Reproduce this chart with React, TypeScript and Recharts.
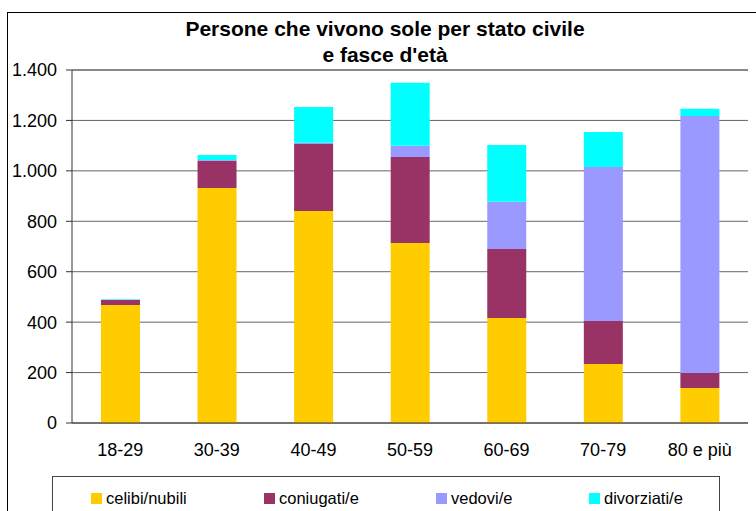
import { Bar, BarChart, CartesianGrid, Legend, ReferenceLine, XAxis, YAxis } from 'recharts'

const ageGroups = ['18-29', '30-39', '40-49', '50-59', '60-69', '70-79', '80 e più']
const celibi = [468, 932, 841, 714, 416, 234, 139]
const coniugati = [20, 108, 266, 341, 274, 171, 59]
const vedovi = [1, 3, 4, 45, 187, 610, 1020]
const divorziati = [2, 20, 142, 249, 226, 139, 28]
const yTicks = [0, 200, 400, 600, 800, 1000, 1200, 1400]
const edgeTicks = [0, 1, 2, 3, 4, 5, 6, 7]

const series = [
  { key: 'celibi', name: 'celibi/nubili', color: '#FFCC00' },
  { key: 'coniugati', name: 'coniugati/e', color: '#993366' },
  { key: 'vedovi', name: 'vedovi/e', color: '#9999FF' },
  { key: 'divorziati', name: 'divorziati/e', color: '#00FFFF' },
]

const data = ageGroups.map((group, i) => ({
  group,
  celibi: celibi[i],
  coniugati: coniugati[i],
  vedovi: vedovi[i],
  divorziati: divorziati[i],
}))

const FONT = 'Arial, "Liberation Sans", sans-serif'
const legendOffsets = [38, 211, 383, 536]

function formatThousands(value: number): string {
  return String(value).replace(/\B(?=(\d{3})+(?!\d))/g, '.')
}

function LegendBox() {
  return (
    <div
      style={{
        width: 668,
        height: 60,
        border: '1px solid #444',
        boxSizing: 'border-box',
        position: 'relative',
        fontFamily: FONT,
        fontSize: 16.5,
        color: '#000',
      }}
    >
      {series.map((s, i) => (
        <div
          key={s.key}
          style={{ position: 'absolute', left: legendOffsets[i], top: 12, display: 'flex', alignItems: 'center' }}
        >
          <span style={{ width: 11, height: 11, background: s.color, display: 'inline-block', marginRight: 4 }} />
          <span>{s.name}</span>
        </div>
      ))}
    </div>
  )
}

export default function App() {
  return (
    <div
      style={{
        position: 'absolute',
        left: 0,
        top: 0,
        width: 756,
        height: 511,
        overflow: 'hidden',
        background: '#fff',
      }}
    >
      <div
        style={{
          position: 'absolute',
          left: 7,
          top: 12,
          width: 800,
          height: 600,
          border: '1px solid #000',
        }}
      />
      <div
        style={{
          position: 'absolute',
          left: 0,
          width: 770,
          top: 16,
          textAlign: 'center',
          fontFamily: FONT,
          fontWeight: 'bold',
          fontSize: 21,
          lineHeight: '26px',
          color: '#000',
        }}
      >
        Persone che vivono sole per stato civile
        <br />e fasce d'età
      </div>
      <BarChart
        width={756}
        height={511}
        data={data}
        margin={{ top: 70, right: 8, bottom: 58, left: 0 }}
        barCategoryGap="30%"
        style={{ position: 'absolute', left: 0, top: 0 }}
      >
        <CartesianGrid vertical={false} stroke="#666" />
        <XAxis
          xAxisId="edges"
          type="number"
          domain={[0, 7]}
          ticks={edgeTicks}
          tick={false}
          tickSize={6}
          tickLine={{ stroke: '#333' }}
          axisLine={false}
          height={0}
        />
        <XAxis
          dataKey="group"
          height={30}
          tickLine={false}
          axisLine={{ stroke: '#333' }}
          tickMargin={14}
          tick={{ fill: '#000', fontSize: 18, fontFamily: FONT }}
          interval={0}
        />
        <YAxis
          width={72}
          domain={[0, 1400]}
          ticks={yTicks}
          tickFormatter={formatThousands}
          tickSize={6}
          tickMargin={9}
          tickLine={{ stroke: '#333' }}
          axisLine={{ stroke: '#333' }}
          tick={{ fill: '#000', fontSize: 18, fontFamily: FONT }}
        />
        <ReferenceLine xAxisId="edges" x={7} stroke="#888" strokeWidth={2} />
        <ReferenceLine y={1400} stroke="#888" strokeWidth={2} />
        <Legend
          layout="horizontal"
          verticalAlign="middle"
          align="center"
          content={<LegendBox />}
          wrapperStyle={{ position: 'absolute', left: 52, top: 476, width: 668 }}
        />
        {series.map((s) => (
          <Bar
            key={s.key}
            dataKey={s.key}
            name={s.name}
            stackId="a"
            fill={s.color}
            isAnimationActive={false}
          />
        ))}
      </BarChart>
    </div>
  )
}
